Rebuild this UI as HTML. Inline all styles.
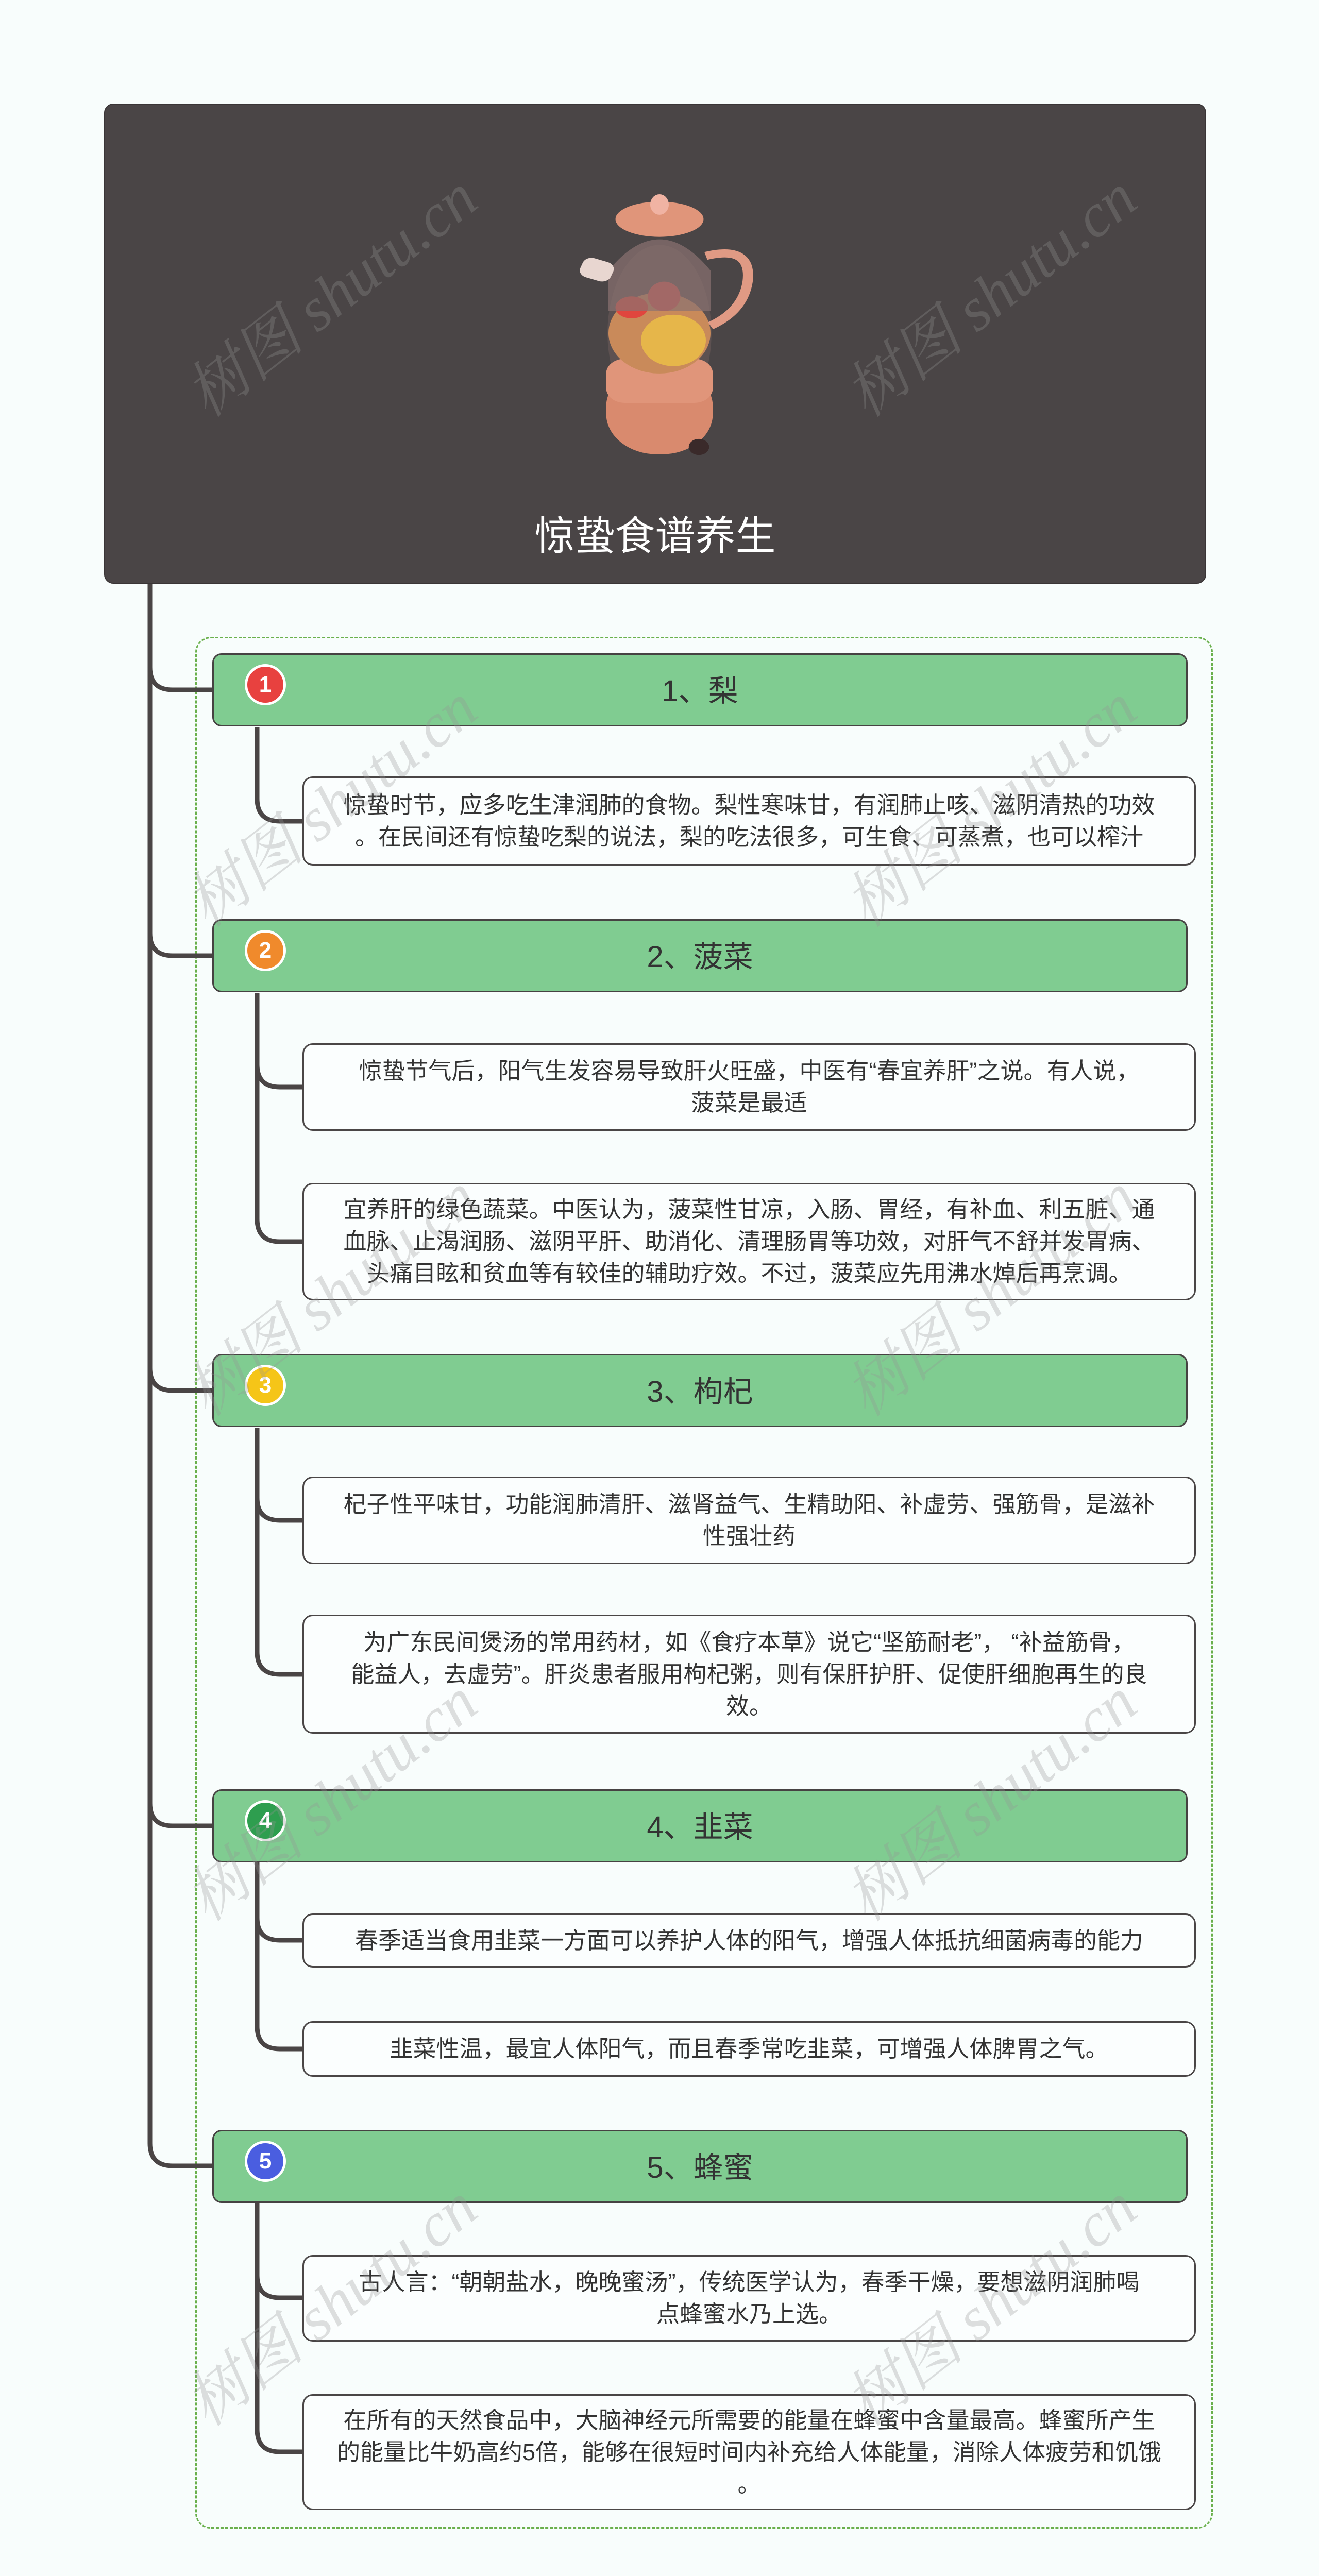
<!DOCTYPE html>
<html style="width:2560px;height:5113px;overflow:hidden"><head><meta charset="utf-8">
<style>
*{margin:0;padding:0;box-sizing:border-box}
body{width:2560px;height:5113px;background:#f8fdfc;position:relative;overflow:hidden;font-family:"Liberation Sans","Noto Sans CJK SC",sans-serif}
.root{position:absolute;left:202px;top:201px;width:2139px;height:932px;background:#4a4546;border-radius:18px;border:2px solid #3a3536}
.root .t{position:absolute;left:0;right:0;top:792px;text-align:center;color:#fff;font-size:78px;line-height:90px}
.dash{position:absolute;left:379px;top:1236px;width:1975px;height:3672px;border:3px dashed #6ab04c;border-radius:30px}
.topic{position:absolute;left:412px;width:1893px;height:142px;background:#80cc91;border:3px solid #464242;border-radius:18px}
.topic .t{position:absolute;left:0;right:0;top:38px;text-align:center;font-size:58px;line-height:66px;color:#333}
.badge{position:absolute;left:60px;top:18px;width:80px;height:80px;border-radius:50%;border:5px solid #fff;color:#fff;font-size:44px;line-height:70px;text-align:center;font-weight:bold}
.sub{position:absolute;left:587px;width:1734px;background:#fbfefe;border:3px solid #4a4646;border-radius:20px;display:flex;align-items:center;justify-content:center;text-align:center;font-size:45px;line-height:62px;color:#333;padding:0 30px}
.wm{position:absolute;font-family:"Liberation Serif","Noto Serif CJK SC",serif;font-style:italic;font-size:120px;color:rgba(150,150,150,0.3);transform:rotate(-38deg);white-space:nowrap}
svg{position:absolute;left:0;top:0}
</style></head><body>
<div class="root">
<svg width="2139" height="932" viewBox="0 0 2139 932">
 <g transform="translate(1076,87) scale(0.9,0.713)">
  <ellipse cx="0" cy="500" rx="112" ry="240" fill="#6a5a58" opacity="0.6"/>
  <rect x="-115" y="590" width="230" height="240" rx="110" fill="#d98a6e"/>
  <rect x="-115" y="570" width="230" height="120" rx="40" fill="#e0957a"/>
  <ellipse cx="0" cy="500" rx="110" ry="110" fill="#c98a5a"/>
  <ellipse cx="30" cy="520" rx="70" ry="70" fill="#e6b64a"/>
  <ellipse cx="-60" cy="430" rx="35" ry="30" fill="#e0463e"/>
  <ellipse cx="10" cy="400" rx="35" ry="40" fill="#d9534f"/>
  <path d="M-110 330 Q0 160 110 330 L110 440 L-110 440Z" fill="#8a7270" opacity="0.7"/>
  <ellipse cx="0" cy="190" rx="95" ry="48" fill="#e0957a"/>
  <ellipse cx="0" cy="150" rx="20" ry="28" fill="#f0b3a3"/>
  <path d="M100 290 Q200 260 190 360 Q180 440 110 480" stroke="#e09a84" stroke-width="22" fill="none"/>
  <rect x="-170" y="300" width="70" height="55" rx="20" fill="#e8d6d0" transform="rotate(20 -135 327)"/>
  <circle cx="85" cy="810" r="22" fill="#3a2a2a"/>
 </g>
</svg>
<div class="t">惊蛰食谱养生</div>
</div>
<div class="dash"></div>
<svg width="2560" height="5113" viewBox="0 0 2560 5113" fill="none" stroke="#4a4545" stroke-width="9">
 <path d="M291 1133 V4160 Q291 4204 335 4204 H412"/>
 <path d="M291 1295 Q291 1339 335 1339 H412"/>
 <path d="M291 1811 Q291 1855 335 1855 H412"/>
 <path d="M291 2655 Q291 2699 335 2699 H412"/>
 <path d="M291 3500 Q291 3544 335 3544 H412"/>
 <path d="M499 1411 V1550 Q499 1594 543 1594 H587"/>
 <path d="M499 1927 V2366 Q499 2410 543 2410 H587 M499 2066 Q499 2110 543 2110 H587"/>
 <path d="M499 2771 V3206 Q499 3250 543 3250 H587 M499 2907 Q499 2951 543 2951 H587"/>
 <path d="M499 3615 V3933 Q499 3977 543 3977 H587 M499 3722 Q499 3766 543 3766 H587"/>
 <path d="M499 4276 V4715 Q499 4759 543 4759 H587 M499 4416 Q499 4460 543 4460 H587"/>
</svg>

<div class="topic" style="top:1268px"><div class="badge" style="background:#e8413f">1</div><div class="t">1、梨</div></div>
<div class="sub" style="top:1507px;height:173px">惊蛰时节，应多吃生津润肺的食物。梨性寒味甘，有润肺止咳、滋阴清热的功效<br>。在民间还有惊蛰吃梨的说法，梨的吃法很多，可生食、可蒸煮，也可以榨汁</div>

<div class="topic" style="top:1784px"><div class="badge" style="background:#f08a2c">2</div><div class="t">2、菠菜</div></div>
<div class="sub" style="top:2025px;height:170px">惊蛰节气后，阳气生发容易导致肝火旺盛，中医有“春宜养肝”之说。有人说，<br>菠菜是最适</div>
<div class="sub" style="top:2296px;height:228px">宜养肝的绿色蔬菜。中医认为，菠菜性甘凉，入肠、胃经，有补血、利五脏、通<br>血脉、止渴润肠、滋阴平肝、助消化、清理肠胃等功效，对肝气不舒并发胃病、<br>头痛目眩和贫血等有较佳的辅助疗效。不过，菠菜应先用沸水焯后再烹调。</div>

<div class="topic" style="top:2628px"><div class="badge" style="background:#f5c518">3</div><div class="t">3、枸杞</div></div>
<div class="sub" style="top:2866px;height:170px">杞子性平味甘，功能润肺清肝、滋肾益气、生精助阳、补虚劳、强筋骨，是滋补<br>性强壮药</div>
<div class="sub" style="top:3134px;height:231px">为广东民间煲汤的常用药材，如《食疗本草》说它“坚筋耐老”， “补益筋骨，<br>能益人，去虚劳”。肝炎患者服用枸杞粥，则有保肝护肝、促使肝细胞再生的良<br>效。</div>

<div class="topic" style="top:3473px"><div class="badge" style="background:#2e9e4f">4</div><div class="t">4、韭菜</div></div>
<div class="sub" style="top:3714px;height:105px">春季适当食用韭菜一方面可以养护人体的阳气，增强人体抵抗细菌病毒的能力</div>
<div class="sub" style="top:3923px;height:108px">韭菜性温，最宜人体阳气，而且春季常吃韭菜，可增强人体脾胃之气。</div>

<div class="topic" style="top:4134px"><div class="badge" style="background:#4a5ee0">5</div><div class="t">5、蜂蜜</div></div>
<div class="sub" style="top:4377px;height:168px">古人言：“朝朝盐水，晚晚蜜汤”，传统医学认为，春季干燥，要想滋阴润肺喝<br>点蜂蜜水乃上选。</div>
<div class="sub" style="top:4647px;height:225px">在所有的天然食品中，大脑神经元所需要的能量在蜂蜜中含量最高。蜂蜜所产生<br>的能量比牛奶高约5倍，能够在很短时间内补充给人体能量，消除人体疲劳和饥饿<br>。</div>

<div class="wm" style="left:300px;top:480px">树图 shutu.cn</div>
<div class="wm" style="left:1580px;top:480px">树图 shutu.cn</div>
<div class="wm" style="left:300px;top:1470px">树图 shutu.cn</div>
<div class="wm" style="left:1580px;top:1470px">树图 shutu.cn</div>
<div class="wm" style="left:300px;top:2420px">树图 shutu.cn</div>
<div class="wm" style="left:1580px;top:2420px">树图 shutu.cn</div>
<div class="wm" style="left:300px;top:3400px">树图 shutu.cn</div>
<div class="wm" style="left:1580px;top:3400px">树图 shutu.cn</div>
<div class="wm" style="left:300px;top:4380px">树图 shutu.cn</div>
<div class="wm" style="left:1580px;top:4380px">树图 shutu.cn</div>
</body></html>
